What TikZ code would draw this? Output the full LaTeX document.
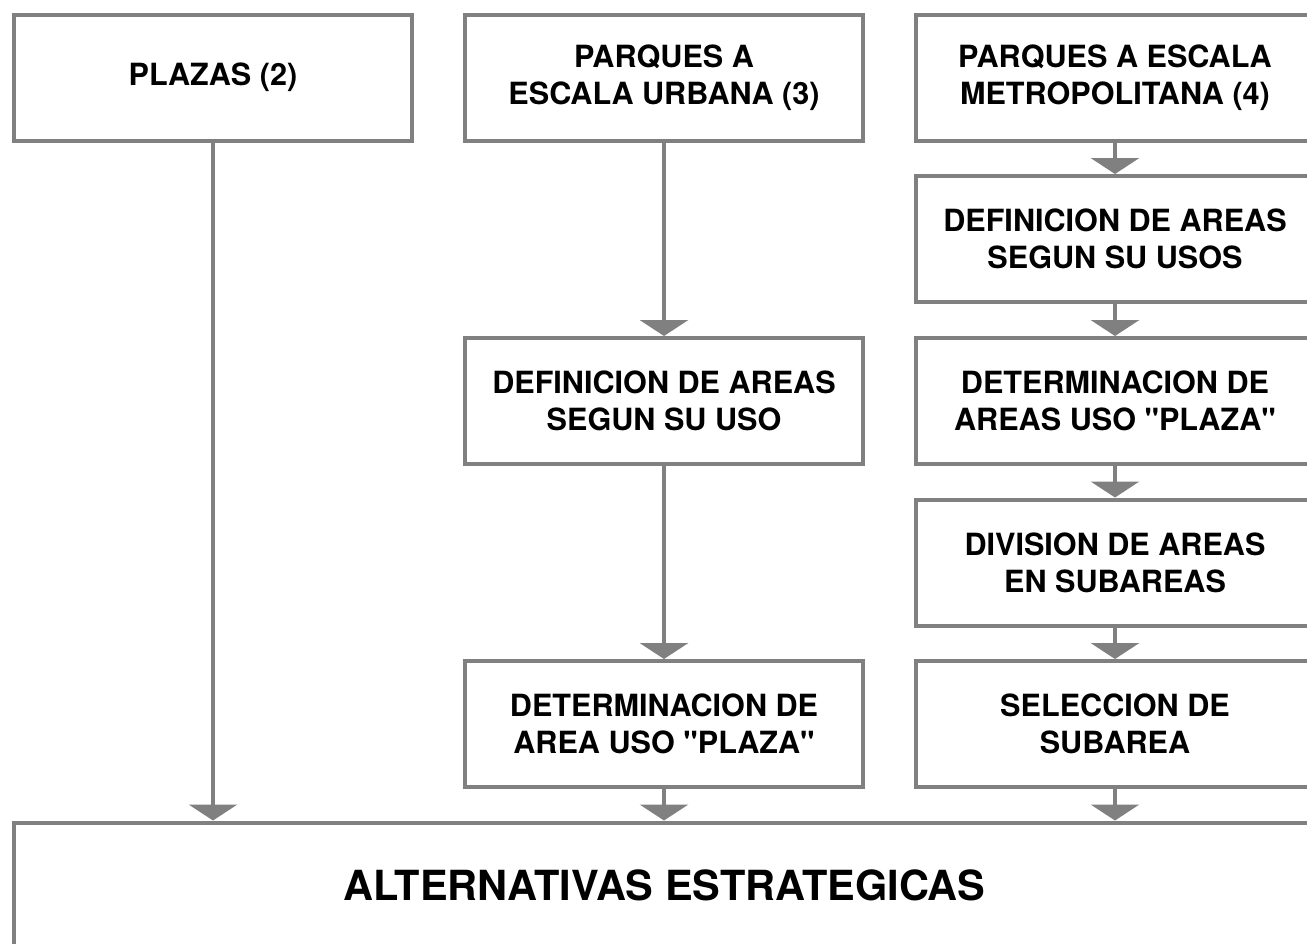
\documentclass[tikz,border=0pt]{standalone}
\usepackage{fontspec}
\setmainfont{TeX Gyre Heros}[Ligatures=TeXOff]
\usetikzlibrary{arrows.meta}
\definecolor{linegray}{RGB}{128,128,128}
\begin{document}
\begin{tikzpicture}[x=1pt,y=1pt,
  box/.style={draw=linegray, line width=4pt, minimum width=398pt, minimum height=126pt,
    align=center, inner sep=0pt, text=black, font=\bfseries\fontsize{30.6}{37}\selectfont},
  bigbox/.style={box, minimum width=1301pt, font=\bfseries\fontsize{41.5}{48}\selectfont},
  flow/.style={draw=linegray, line width=4pt, -{Triangle[width=48pt,length=16pt]}},
]
\useasboundingbox[fill=white] (0,0) rectangle (1307,-943);
\clip (0,0) rectangle (1307,-943);
% left column
\node[box] (plazas) at (213,-77.5) {PLAZAS (2)};
% middle column
\node[box] (urb) at (664,-77.5) {PARQUES A\\ESCALA URBANA (3)};
\node[box] (def3) at (664,-401) {DEFINICION DE AREAS\\SEGUN SU USO};
\node[box] (det3) at (664,-724) {DETERMINACION DE\\AREA USO "PLAZA"};
% right column
\node[box] (metro) at (1115,-77.5) {PARQUES A ESCALA\\METROPOLITANA (4)};
\node[box] (def4) at (1115,-239) {DEFINICION DE AREAS\\SEGUN SU USOS};
\node[box] (det4) at (1115,-401) {DETERMINACION DE\\AREAS USO "PLAZA"};
\node[box] (div4) at (1115,-562.5) {DIVISION DE AREAS\\EN SUBAREAS};
\node[box] (sel4) at (1115,-724) {SELECCION DE\\SUBAREA};
% bottom
\node[bigbox] (alt) at (664.5,-885.5) {ALTERNATIVAS ESTRATEGICAS};
% connectors
\draw[flow] (plazas.south) -- (plazas.south |- alt.north);
\draw[flow] (urb) -- (def3);
\draw[flow] (def3) -- (det3);
\draw[flow] (det3.south) -- (det3.south |- alt.north);
\draw[flow] (metro) -- (def4);
\draw[flow] (def4) -- (det4);
\draw[flow] (det4) -- (div4);
\draw[flow] (div4) -- (sel4);
\draw[flow] (sel4.south) -- (sel4.south |- alt.north);
\end{tikzpicture}
\end{document}
